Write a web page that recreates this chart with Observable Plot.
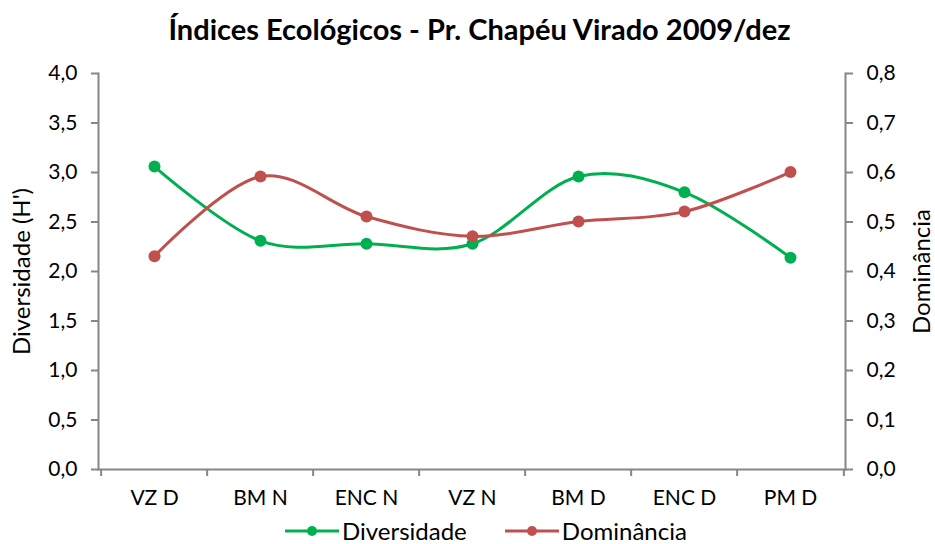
<!DOCTYPE html>
<html>
<head>
<meta charset="utf-8">
<script src="https://cdn.jsdelivr.net/npm/d3@7"></script>
<script src="https://cdn.jsdelivr.net/npm/@observablehq/plot@0.6"></script>
<style>
  html, body { margin: 0; padding: 0; background: #fff; }
  body { width: 935px; height: 544px; overflow: hidden; position: relative; font-family: Lato, "Open Sans", sans-serif; }
  #title { height: 58px; line-height: 58px; text-align: center; font-weight: bold; font-size: 29px; color: #000; padding-left: 24px; }
  #chart { height: 460px; }
  #legend { position: absolute; left: 285px; top: 517px; height: 27px; display: flex; align-items: center; font-size: 24px; color: #000; }
  .item { display: flex; align-items: center; }
  .item svg { margin-right: 3px; }
</style>
</head>
<body>
<div id="title">Índices Ecológicos - Pr. Chapéu Virado 2009/dez</div>
<div id="chart"></div>
<div id="legend"></div>
<script>
const categories = ["VZ D", "BM N", "ENC N", "VZ N", "BM D", "ENC D", "PM D"];
const diversidade = [3.06, 2.31, 2.28, 2.28, 2.96, 2.80, 2.14];
const dominancia = [0.431, 0.592, 0.511, 0.471, 0.501, 0.521, 0.601];
const leftTicks = [0, 0.5, 1, 1.5, 2, 2.5, 3, 3.5, 4];
const rightTicks = [0, 0.1, 0.2, 0.3, 0.4, 0.5, 0.6, 0.7, 0.8];
const seriesNames = ["Diversidade", "Dominância"];
const yLabels = ["Diversidade (H')", "Dominância"];
const colors = ["#00B050", "#C0504D"];

const ratio = 4 / 0.8;
const data = categories.map((c, i) => ({cat: c, div: diversidade[i], dom: dominancia[i] * ratio}));
const fmt = v => v.toFixed(1).replace(".", ",");

const W = 935, H = 460, mL = 98, mR = 90, mT = 15, mB = 49;
const step = (W - mL - mR) / categories.length;
const gray = "#868686";
const fs = 21;

const chart = Plot.plot({
  width: W, height: H,
  marginLeft: mL, marginRight: mR, marginTop: mT, marginBottom: mB,
  style: {fontFamily: "Lato, 'Open Sans', sans-serif", fontSize: fs + "px", color: "#000", background: "#fff"},
  x: {type: "point", domain: categories, padding: 0.5},
  y: {domain: [0, 4]},
  marks: [
    Plot.frame({anchor: "left", stroke: gray, strokeWidth: 2}),
    Plot.frame({anchor: "right", stroke: gray, strokeWidth: 2}),
    Plot.frame({anchor: "bottom", stroke: gray, strokeWidth: 2}),
    Plot.axisX({ticks: categories, tickSize: 7, dx: -step / 2, text: null, stroke: gray, strokeWidth: 2, label: null}),
    Plot.axisX({ticks: [categories[categories.length - 1]], tickSize: 7, dx: step / 2, text: null, stroke: gray, strokeWidth: 2, label: null}),
    Plot.axisX({ticks: categories, tickSize: 0, tickPadding: 21, fontSize: fs, fill: "#000", label: null}),
    Plot.axisY({ticks: leftTicks, tickFormat: fmt, tickSize: 7, tickPadding: 14, stroke: gray, strokeWidth: 2, fill: "#000", label: null}),
    Plot.axisY({anchor: "right", ticks: rightTicks.map(v => v * ratio), tickFormat: v => fmt(v / ratio), tickSize: 7, tickPadding: 14,
      stroke: gray, strokeWidth: 2, fill: "#000", label: null}),
    Plot.text([yLabels[0]], {frameAnchor: "left", textAnchor: "middle", rotate: -90, dx: -76, fontSize: 24, fill: "#000"}),
    Plot.text([yLabels[1]], {frameAnchor: "right", textAnchor: "middle", rotate: -90, dx: 77, fontSize: 24, fill: "#000"}),
    Plot.line(data, {x: "cat", y: "div", stroke: colors[0], strokeWidth: 3, curve: "cardinal"}),
    Plot.line(data, {x: "cat", y: "dom", stroke: colors[1], strokeWidth: 3, curve: "cardinal"}),
    Plot.dot(data, {x: "cat", y: "div", r: 6, fill: colors[0]}),
    Plot.dot(data, {x: "cat", y: "dom", r: 6, fill: colors[1]})
  ]
});
document.getElementById("chart").appendChild(chart);

const legend = document.getElementById("legend");
seriesNames.forEach((name, i) => {
  const item = document.createElement("div");
  item.className = "item";
  item.style.marginRight = i === 0 ? "38px" : "0";
  item.innerHTML = `<svg width="54" height="14"><line x1="0" y1="7" x2="54" y2="7" stroke="${colors[i]}" stroke-width="3"/><circle cx="27" cy="7" r="5" fill="${colors[i]}"/></svg><span>${name}</span>`;
  legend.appendChild(item);
});
</script>
</body>
</html>
